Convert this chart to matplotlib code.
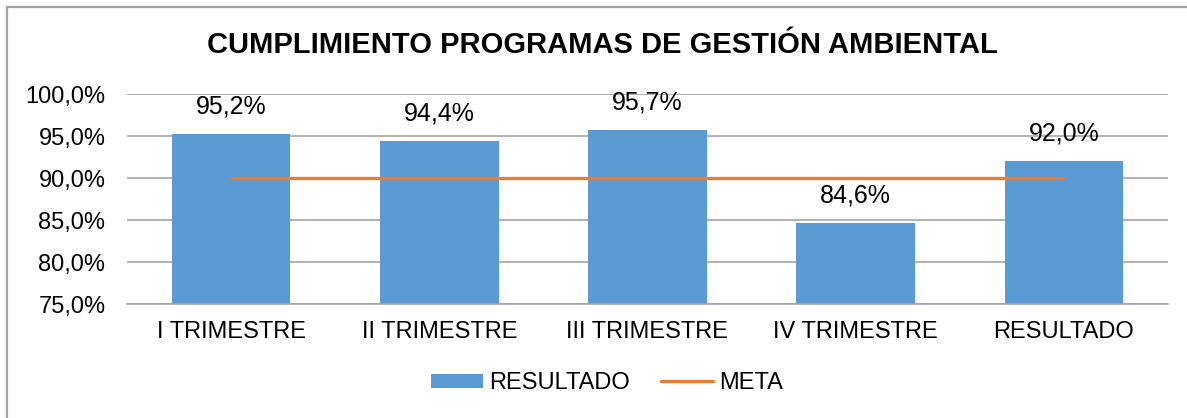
import matplotlib
matplotlib.use("Agg")
import matplotlib.pyplot as plt
from matplotlib.lines import Line2D
from matplotlib.ticker import FuncFormatter

categories = ["I TRIMESTRE", "II TRIMESTRE", "III TRIMESTRE", "IV TRIMESTRE", "RESULTADO"]
resultado = [95.2, 94.4, 95.7, 84.6, 92.0]
meta = [90.0, 90.0, 90.0, 90.0, 90.0]
yticks = [75, 80, 85, 90, 95, 100]

plt.rcParams['font.family'] = ['Liberation Sans', 'DejaVu Sans']

W, H = 1187, 418
fig = plt.figure(figsize=(W / 100, H / 100), dpi=100)
ax = fig.add_axes([127 / W, 1 - 304 / H, (1168 - 127) / W, (304 - 94) / H])

x = list(range(len(categories)))
bars = ax.bar(x, resultado, width=0.57, color="#5b9bd5", label="RESULTADO", zorder=2)
ax.plot(x, meta, color="#ed7d31", lw=2.4, label="META", zorder=3, solid_capstyle="round")

for xi, v in zip(x, resultado):
    ax.annotate(f"{v:.1f}%".replace(".", ","), (xi, v), xytext=(0, 11.5), textcoords="offset points",
                ha="center", va="bottom", fontsize=18, color="#000000")

ax.set_xlim(-0.5, len(categories) - 0.5)
ax.set_ylim(75, 100)
ax.set_yticks(yticks)
ax.yaxis.set_major_formatter(FuncFormatter(lambda v, p: f"{v:.1f}%".replace(".", ",")))
ax.set_xticks(x)
ax.set_xticklabels(categories)
ax.tick_params(axis="y", length=0, pad=15.5, labelsize=17)
ax.tick_params(axis="x", length=0, pad=12, labelsize=17)
ax.grid(axis="y", color="#a6a6a6", lw=1.2, zorder=0)
for s in ["top", "right", "left"]:
    ax.spines[s].set_visible(False)
ax.spines["bottom"].set_color("#a6a6a6")
ax.spines["bottom"].set_linewidth(1.2)

fig.text(602 / W, 1 - 45 / H, "CUMPLIMIENTO PROGRAMAS DE GESTIÓN AMBIENTAL",
         ha="center", va="center", fontsize=21, fontweight="bold")

fig.legend(handles=[bars, ax.lines[0]], labels=["RESULTADO", "META"], loc="center",
           bbox_to_anchor=(607 / W, 1 - 383 / H), ncol=2, frameon=False, fontsize=17,
           handlelength=2.2, handleheight=0.55, handletextpad=0.25, columnspacing=1.3)

# outer frame (partially cropped)
fig.add_artist(Line2D([7 / W, 7 / W, 1.01], [-0.01, 1 - 7 / H, 1 - 7 / H],
                      transform=fig.transFigure, color="#a0a0a0", lw=1.6))

fig.savefig("out.png", dpi=100)
